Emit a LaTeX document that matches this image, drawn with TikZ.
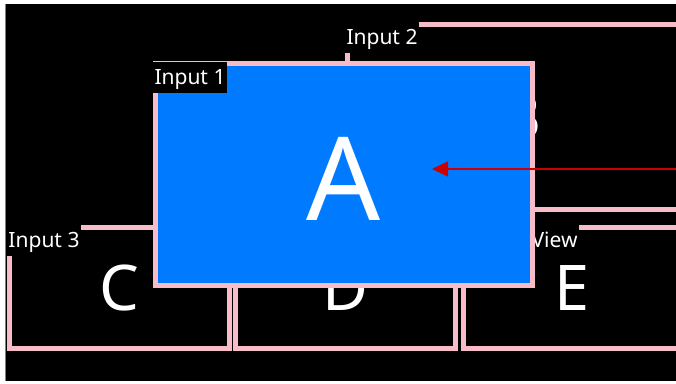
\documentclass[tikz,border=0pt]{standalone}
\usepackage{fontspec}
\setmainfont{Noto Sans}
\usetikzlibrary{arrows.meta}

\definecolor{panelpink}{RGB}{248,188,200}
\definecolor{panelblue}{RGB}{0,122,255}
\definecolor{arrowred}{RGB}{204,0,0}

\begin{document}
\begin{tikzpicture}[x=1pt, y=-1pt, line join=miter, >={Triangle[length=16pt,width=15pt]},
    panel/.style={draw=panelpink, line width=5pt, fill=black, text=white,
                  inner sep=0pt, outer sep=0pt, font=\fontsize{63}{70}\selectfont},
    tag/.style={fill=black, text=white, font=\fontsize{21}{25}\selectfont,
                inner xsep=1.5pt, inner ysep=0.5pt, outer sep=0pt,
                text height=22pt, text depth=8pt}]
    % Weisser Rand und schwarze Flaeche
    \useasboundingbox (0,0) rectangle (676,383);
    \fill[white] (0,0) rectangle (676,383);
    \fill[black] (6,4) rectangle (676,381);
    \draw[gray, line width=1.2pt] (5.6,4) -- (5.6,381);

    \begin{scope}
    \clip (6,4) rectangle (676,381);

    % Hintere Felder B, C, D, E
    \node[panel, minimum width=346.5pt, minimum height=185pt] (B) at (520.75,117) {B};
    \node[panel, minimum width=220pt, minimum height=121pt] (C) at (119.5,288) {C};
    \node[panel, minimum width=220pt, minimum height=121pt] (D) at (345.5,288) {D};
    \node[panel, minimum width=217pt, minimum height=121pt] (E) at (572,288) {E};

    % Beschriftungen der hinteren Felder
    \node[tag, anchor=north west] (inB) at (345,22) {Input 2};
    \node[tag, anchor=north west] (inC) at (7,225) {Input 3};
    \node[tag, anchor=north east] (inE) at (579,225) {View};

    % Vorderes Feld A (blau)
    \node[panel, fill=panelblue, minimum width=377pt, minimum height=222pt,
          font=\fontsize{116}{130}\selectfont, text height=91pt] (A) at (344,174.5) {A};
    \node[tag, anchor=north west] (inA) at (153,61.5) {Input 1};

    % Roter Pfeil von rechts
    \coordinate (src) at (680,169);
    \coordinate (tip) at (432,169);
    \draw[->, arrowred, line width=1.5pt] (src) -- (tip);
    \end{scope}
\end{tikzpicture}
\end{document}
